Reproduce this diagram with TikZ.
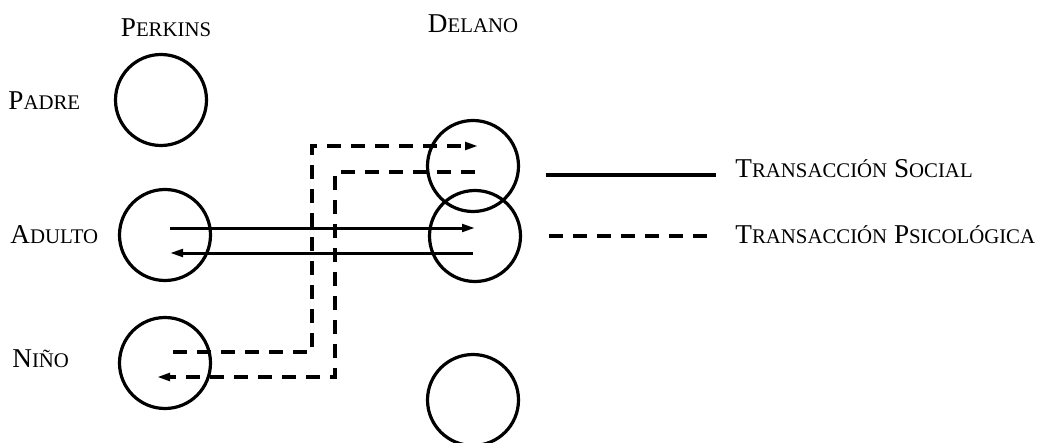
\documentclass[tikz,border=0pt]{standalone}
\usepackage{fontspec}
\setmainfont{Liberation Serif}
\usetikzlibrary{arrows.meta}
\newcommand\fsc[2]{#1{\fontsize{10.4}{10.4}\selectfont #2}}
\begin{document}
\begin{tikzpicture}[x=0.5pt,y=-0.5pt,
  circ/.style={draw,circle,line width=1.6pt,minimum size=45.5pt,inner sep=0pt},
  lbl/.style={font=\fontsize{13.6}{13.6}\selectfont,inner sep=0pt},
  soc/.style={line width=1.5pt},
  psi/.style={line width=1.6pt,dash pattern=on 7pt off 5pt},
  tip/.style={-{Triangle[length=6.5pt,width=3.8pt]}}]
\useasboundingbox (0,0) rectangle (1037,443);
% circles
\node[circ] (pP) at (161,100) {};
\node[circ] (pA) at (165,235) {};
\node[circ] (pN) at (165,363) {};
\node[circ] (dP) at (473,166) {};
\node[circ] (dA) at (475,236) {};
\node[circ] (dN) at (473,400) {};
% labels
\node[lbl,anchor=base] (tPerk) at (166,37) {\fsc{P}{ERKINS}};
\node[lbl,anchor=base] (tDel) at (473,33) {\fsc{D}{ELANO}};
\node[lbl,anchor=base west] (tPad) at (8,110) {\fsc{P}{ADRE}};
\node[lbl,anchor=base west] (tAdu) at (10,243) {\fsc{A}{DULTO}};
\node[lbl,anchor=base west] (tNin) at (12,367) {\fsc{N}{IÑO}};
% connector end points
\coordinate (s1a) at (170,228);
\coordinate (s1b) at (475,228);
\coordinate (s2a) at (473,253);
\coordinate (s2b) at (170,253);
\coordinate (p1a) at (173,352);
\coordinate (p1c1) at (312,352);
\coordinate (p1c2) at (312,146);
\coordinate (p1b) at (478,146);
\coordinate (p2a) at (475,172);
\coordinate (p2c1) at (335,172);
\coordinate (p2c2) at (335,377);
\coordinate (p2b) at (157,377);
% social transactions
\draw[soc,tip] (s1a) -- (s1b);
\draw[soc,tip] (s2a) -- (s2b);
% psychological transactions
\draw[psi,tip] (p1a) -- (p1c1) -- (p1c2) -- (p1b);
\draw[psi,tip] (p2a) -- (p2c1) -- (p2c2) -- (p2b);
% legend
\coordinate (l1a) at (546,175);
\coordinate (l1b) at (716,175);
\coordinate (l2a) at (549,236);
\coordinate (l2b) at (716,236);
\draw[soc,line width=1.6pt] (l1a) -- (l1b);
\draw[psi] (l2a) -- (l2b);
\node[lbl,anchor=base west] (tSoc) at (735,177) {\fsc{T}{RANSACCIÓN} \fsc{S}{OCIAL}};
\node[lbl,anchor=base west] (tPsi) at (735,243) {\fsc{T}{RANSACCIÓN} \fsc{P}{SICOLÓGICA}};
\end{tikzpicture}
\end{document}
